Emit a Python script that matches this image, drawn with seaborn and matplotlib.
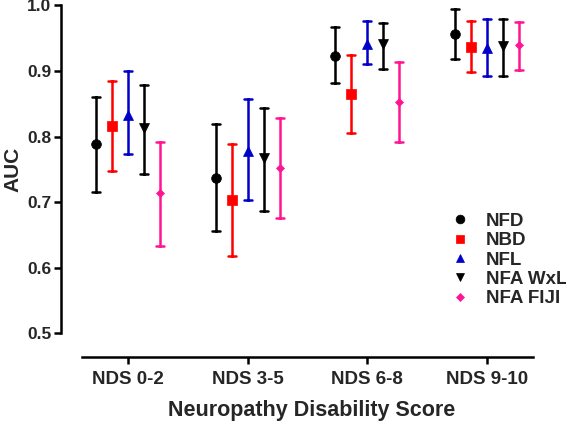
import numpy as np
import pandas as pd
import matplotlib
matplotlib.use("Agg")
import matplotlib.pyplot as plt
import seaborn as sns

groups = ["NDS 0-2", "NDS 3-5", "NDS 6-8", "NDS 9-10"]
series = ["NFD", "NBD", "NFL", "NFA WxL", "NFA FIJI"]

nfd_mid = [0.789, 0.736, 0.923, 0.956]
nfd_lo = [0.716, 0.655, 0.881, 0.918]
nfd_hi = [0.860, 0.819, 0.967, 0.994]

nbd_mid = [0.816, 0.703, 0.865, 0.937]
nbd_lo = [0.747, 0.618, 0.806, 0.898]
nbd_hi = [0.885, 0.788, 0.925, 0.977]

nfl_mid = [0.833, 0.778, 0.941, 0.935]
nfl_lo = [0.773, 0.703, 0.910, 0.893]
nfl_hi = [0.900, 0.857, 0.977, 0.979]

wxl_mid = [0.813, 0.767, 0.941, 0.938]
wxl_lo = [0.743, 0.687, 0.903, 0.892]
wxl_hi = [0.878, 0.844, 0.973, 0.979]

fiji_mid = [0.713, 0.752, 0.852, 0.939]
fiji_lo = [0.633, 0.675, 0.791, 0.901]
fiji_hi = [0.792, 0.829, 0.913, 0.975]

yticks = [0.5, 0.6, 0.7, 0.8, 0.9, 1.0]

colors = ["#000000", "#FF0000", "#0000C8", "#000000", "#FF1493"]
markers = ["o", "s", "^", "v", "D"]
msizes = {"o": 7.0, "s": 6.5, "^": 6.5, "v": 6.5, "D": 4.5}

table = {
    "NFD": (nfd_lo, nfd_mid, nfd_hi),
    "NBD": (nbd_lo, nbd_mid, nbd_hi),
    "NFL": (nfl_lo, nfl_mid, nfl_hi),
    "NFA WxL": (wxl_lo, wxl_mid, wxl_hi),
    "NFA FIJI": (fiji_lo, fiji_mid, fiji_hi),
}
rows = []
for s in series:
    lo, mid, hi = table[s]
    for i, g in enumerate(groups):
        for v in (lo[i], mid[i], hi[i]):
            rows.append({"group": g, "series": s, "auc": v})
df = pd.DataFrame(rows)

sns.set_style("ticks")
plt.rcParams["font.family"] = ["Liberation Sans", "DejaVu Sans"]
plt.rcParams["font.weight"] = "bold"

fig = plt.figure(figsize=(5.66, 4.24), dpi=100)
W, H = 566, 424
ax_left, ax_right, ax_top, ax_bottom = 61, 533, 5.5, 357
ax = fig.add_axes([ax_left / W, 1 - ax_bottom / H, (ax_right - ax_left) / W, (ax_bottom - ax_top) / H])

sns.pointplot(
    data=df, x="group", y="auc", hue="series",
    order=groups, hue_order=series,
    estimator="median", errorbar=lambda v: (v.min(), v.max()),
    dodge=0.534, markers=markers, linestyles="none",
    palette=colors, capsize=0.065, err_kws={"linewidth": 1.8},
    ax=ax,
)
for ln in ax.lines:
    ln.set_clip_on(False)
    m = ln.get_marker()
    if m in msizes:
        ln.set_markersize(msizes[m])
        ln.set_markeredgewidth(0.5)

ax.set_xlim(-0.563, 3.387)
ax.set_ylim(0.4634, 1.0)
ax.set_yticks(yticks)
ax.set_yticklabels([f"{t:.1f}" for t in yticks])
ax.spines["left"].set_bounds(0.5, 1.0)
ax.spines["bottom"].set_bounds(-0.388, 3.387)
ax.spines["top"].set_visible(False)
ax.spines["right"].set_visible(False)
for sp in ("left", "bottom"):
    ax.spines[sp].set_linewidth(1.8)
    ax.spines[sp].set_color("black")
ax.tick_params(axis="both", direction="out", length=5, width=1.8, color="black")
ax.tick_params(axis="y", labelsize=12.5, pad=2)
ax.tick_params(axis="x", labelsize=13.5, pad=5)
for lab in ax.get_xticklabels() + ax.get_yticklabels():
    lab.set_fontweight("bold")

ax.set_ylabel("AUC", fontsize=15, fontweight="bold")
ax.yaxis.set_label_coords(-0.082, 0.534)
ax.set_xlabel("Neuropathy Disability Score", fontsize=15.5, fontweight="bold")
ax.xaxis.set_label_coords(0.53, -0.122)

leg = ax.get_legend()
handles = leg.legend_handles
labels = [t.get_text() for t in leg.get_texts()]
leg.remove()
for h in handles:
    m = h.get_marker()
    if m in msizes:
        h.set_markersize(msizes[m] * 0.9)
        h.set_markeredgewidth(0.5)
lg = fig.legend(handles, labels, loc="center left",
                bbox_to_anchor=(451.0 / W, 1 - 260 / H),
                frameon=False, borderpad=0, borderaxespad=0,
                handlelength=1.0, handletextpad=0.85, labelspacing=0.12,
                prop={"weight": "bold", "size": 13.5})

fig.savefig("out.png", dpi=100)
